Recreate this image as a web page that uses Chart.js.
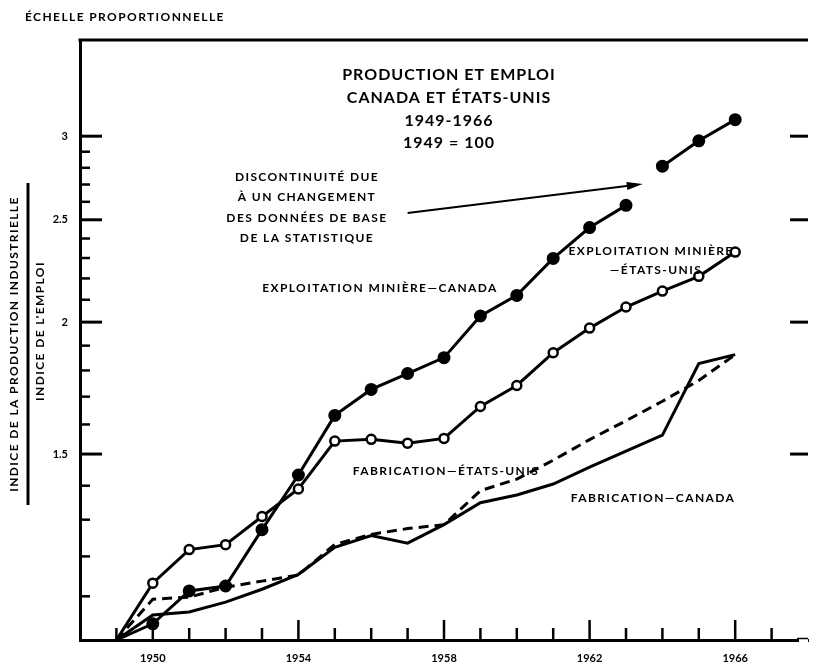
<!DOCTYPE html>
<html><head><meta charset="utf-8">
<script src="https://cdn.jsdelivr.net/npm/chart.js@4/dist/chart.umd.min.js"></script>
<style>html,body{margin:0;padding:0;background:#fff}canvas{display:block}</style>
</head><body>
<canvas id="c" width="820" height="667"></canvas>
<script>
// ---- data (index 1949 = 1.00) ----
const years = [1949,1950,1951,1952,1953,1954,1955,1956,1957,1958,1959,1960,1961,1962,1963,1964,1965,1966];
const miningCanada = [1.00,1.036,1.113,1.125,1.272,1.433,1.632,1.727,1.788,1.851,2.027,2.12,2.298,2.458,2.58,2.81,2.97,3.11];
const miningUS     = [1.00,1.132,1.218,1.231,1.309,1.39,1.543,1.549,1.536,1.552,1.664,1.742,1.871,1.974,2.067,2.14,2.21,2.33];
const fabCanada    = [1.00,1.056,1.063,1.086,1.117,1.154,1.224,1.256,1.235,1.286,1.349,1.372,1.405,1.458,1.51,1.563,1.827,1.863];
const fabUS        = [1.00,1.093,1.098,1.122,1.137,1.152,1.232,1.259,1.275,1.286,1.385,1.42,1.48,1.548,1.613,1.683,1.761,1.863];
const breakAfterYear = 1963;
const yMajorTicks = [1.5, 2, 2.5, 3];
const yTickLabels = ['1.5', '2', '2.5', '3'];
const yMinorTicks = [1.1,1.2,1.3,1.4,1.6,1.7,1.8,1.9,2.1,2.2,2.3,2.4,2.6,2.7,2.8,2.9];
const xAllYears = [1949,1950,1951,1952,1953,1954,1955,1956,1957,1958,1959,1960,1961,1962,1963,1964,1965,1966,1967];
const xLabelYears = [1950,1954,1958,1962,1966];
const titleLines = ['PRODUCTION ET EMPLOI','CANADA ET ÉTATS-UNIS','1949-1966','1949 = 100'];
const noteLines = ['DISCONTINUITÉ DUE','À UN CHANGEMENT','DES DONNÉES DE BASE','DE LA STATISTIQUE'];

const FONT = 'Lato';
const pts = arr => arr.map((v, i) => ({x: years[i], y: v}));
const breakIdx = years.indexOf(breakAfterYear);

const decor = {
  id: 'decor',
  afterDraw(chart) {
    const ctx = chart.ctx, xs = chart.scales.x, ys = chart.scales.y, a = chart.chartArea;
    ctx.save();
    ctx.strokeStyle = '#000'; ctx.fillStyle = '#000'; ctx.lineCap = 'butt';
    // top frame line
    ctx.lineWidth = 3;
    ctx.beginPath(); ctx.moveTo(a.left - 1.5, a.top); ctx.lineTo(a.right, a.top); ctx.stroke();
    // bottom axis: thin continuation at far right
    ctx.fillStyle = '#fff'; ctx.fillRect(799, a.bottom - 2, a.right - 799, 5); ctx.fillStyle = '#000';
    ctx.lineWidth = 1.5;
    ctx.beginPath(); ctx.moveTo(797, a.bottom - 1.5); ctx.lineTo(a.right, a.bottom - 1.5); ctx.stroke();
    // inward y ticks (left)
    ctx.lineWidth = 3;
    yMajorTicks.forEach(v => { const y = ys.getPixelForValue(v);
      ctx.beginPath(); ctx.moveTo(a.left, y); ctx.lineTo(a.left + 22, y); ctx.stroke(); });
    ctx.lineWidth = 2.5;
    yMinorTicks.forEach(v => { const y = ys.getPixelForValue(v);
      ctx.beginPath(); ctx.moveTo(a.left, y); ctx.lineTo(a.left + 10, y); ctx.stroke(); });
    // right side major ticks
    ctx.lineWidth = 3;
    yMajorTicks.forEach(v => { const y = ys.getPixelForValue(v);
      ctx.beginPath(); ctx.moveTo(a.right - 18, y); ctx.lineTo(a.right, y); ctx.stroke(); });
    // inward x ticks
    ctx.lineWidth = 2.5;
    xAllYears.forEach(yr => { const x = xs.getPixelForValue(yr);
      const len = xLabelYears.includes(yr) ? 20 : 12;
      ctx.beginPath(); ctx.moveTo(x, a.bottom); ctx.lineTo(x, a.bottom - len); ctx.stroke(); });

    // texts
    ctx.textAlign = 'center'; ctx.textBaseline = 'middle';
    ctx.letterSpacing = '1px';
    ctx.font = `bold 16px ${FONT}`;
    const tY = [75, 98, 121, 143];
    titleLines.forEach((t, i) => ctx.fillText(t, 449, tY[i]));
    ctx.letterSpacing = '1.4px';
    ctx.font = `bold 12px ${FONT}`;
    const nY = [177, 197, 218, 238];
    noteLines.forEach((t, i) => ctx.fillText(t, 307, nY[i]));
    ctx.fillText('EXPLOITATION MINIÈRE—CANADA', 380, 288);
    ctx.fillText('EXPLOITATION MINIÈRE', 651, 251);
    ctx.fillText('—ÉTATS-UNIS', 656, 270);
    ctx.fillText('FABRICATION—ÉTATS-UNIS', 446, 471);
    ctx.fillText('FABRICATION—CANADA', 653, 498);
    ctx.textAlign = 'left';
    ctx.fillText('ÉCHELLE PROPORTIONNELLE', 25, 17);

    // arrow (in data coordinates)
    const x1 = xs.getPixelForValue(1957.0), y1 = ys.getPixelForValue(2.537);
    const x2 = xs.getPixelForValue(1963.46), y2 = ys.getPixelForValue(2.703);
    ctx.lineWidth = 2;
    ctx.beginPath(); ctx.moveTo(x1, y1); ctx.lineTo(x2 - 10, y2 + 1.2); ctx.stroke();
    const ang = Math.atan2(y2 - y1, x2 - x1);
    ctx.beginPath();
    ctx.moveTo(x2, y2);
    ctx.lineTo(x2 - 16 * Math.cos(ang) + 4 * Math.sin(ang), y2 - 16 * Math.sin(ang) - 4 * Math.cos(ang));
    ctx.lineTo(x2 - 16 * Math.cos(ang) - 4 * Math.sin(ang), y2 - 16 * Math.sin(ang) + 4 * Math.cos(ang));
    ctx.closePath(); ctx.fill();

    // rotated axis title (fraction)
    ctx.save();
    ctx.translate(14, 344); ctx.rotate(-Math.PI / 2);
    ctx.textAlign = 'center';
    ctx.font = `bold 12px ${FONT}`;
    ctx.fillText('INDICE DE LA PRODUCTION INDUSTRIELLE', 0, 0);
    ctx.restore();
    ctx.save();
    ctx.translate(40, 331); ctx.rotate(-Math.PI / 2);
    ctx.textAlign = 'center';
    ctx.font = `bold 12px ${FONT}`;
    ctx.fillText("INDICE DE L'EMPLOI", 0, 0);
    ctx.restore();
    ctx.lineWidth = 3;
    ctx.beginPath(); ctx.moveTo(28, 183); ctx.lineTo(28, 505); ctx.stroke();
    ctx.letterSpacing = '0px';
    ctx.restore();
  }
};

new Chart(document.getElementById('c'), {
  type: 'line',
  data: {
    datasets: [
      { data: pts(miningCanada), borderColor: '#000', borderWidth: 3, tension: 0,
        pointRadius: c => c.dataIndex === 0 ? 0 : 5, pointBackgroundColor: '#000', pointBorderColor: '#000',
        segment: { borderColor: c => c.p0DataIndex === breakIdx ? 'rgba(0,0,0,0)' : '#000' } },
      { data: pts(miningUS), borderColor: '#000', borderWidth: 3, tension: 0,
        pointRadius: c => c.dataIndex === 0 ? 0 : 4.5, pointBackgroundColor: '#fff', pointBorderColor: '#000', pointBorderWidth: 2.5 },
      { data: pts(fabCanada), borderColor: '#000', borderWidth: 3, tension: 0, pointRadius: 0 },
      { data: pts(fabUS), borderColor: '#000', borderWidth: 3, tension: 0, pointRadius: 0, borderDash: [10, 6] }
    ]
  },
  options: {
    responsive: false, animation: false, devicePixelRatio: 1,
    layout: { padding: { top: 40, right: 0, left: 0, bottom: 0 } },
    plugins: { legend: { display: false }, tooltip: { enabled: false } },
    scales: {
      x: { type: 'linear', min: 1948, max: 1968,
        afterFit: s => { s.height = 27; },
        grid: { display: false, drawTicks: false },
        border: { display: true, width: 3, color: '#000' },
        ticks: { stepSize: 1, autoSkip: false, maxRotation: 0, padding: 12, color: '#000',
          font: { family: FONT, size: 11, weight: 'bold' },
          callback: v => xLabelYears.includes(v) ? String(v) : '' } },
      y: { type: 'logarithmic', min: 1, max: 3.7,
        afterFit: s => { s.width = 80; },
        afterBuildTicks: s => { s.ticks = yMajorTicks.map(v => ({ value: v })); },
        grid: { display: false, drawTicks: false },
        border: { display: true, width: 3, color: '#000' },
        ticks: { padding: 12, color: '#000', font: { family: FONT, size: 11, weight: 'bold' },
          callback: v => { const i = yMajorTicks.indexOf(v); return i >= 0 ? yTickLabels[i] : ''; } } }
    }
  },
  plugins: [decor]
});
</script>
</body></html>
